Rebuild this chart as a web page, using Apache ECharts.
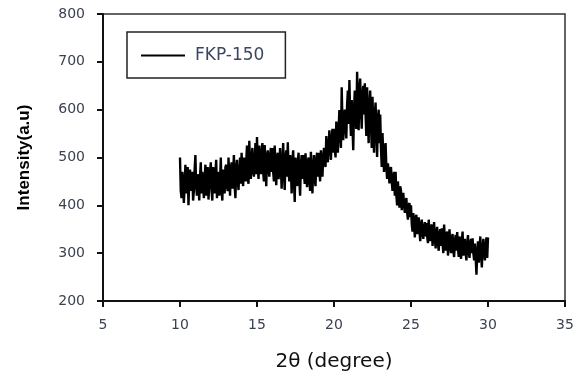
<!DOCTYPE html>
<html>
<head>
<meta charset="utf-8">
<script src="https://cdn.jsdelivr.net/npm/echarts@6/dist/echarts.min.js"></script>
<style>html,body{margin:0;padding:0;background:#fff;}#c{width:581px;height:380px;}</style>
</head>
<body>
<div id="c"></div>
<script>
// Sampling grid of 2θ (degrees)
var thetaStart = 10.0;
var thetaStep = 0.05;
// Intensity readings (a.u.), one per 0.05° from 10.00° to 30.00°
var intensity10 = [500,430,415,470,455,405,440,485,425,460,480,400,450,475,430,445,470,410,430,475];
var intensity11 = [505,440,420,465,450,410,460,490,425,470,470,415,455,485,420,440,480,412,445,470];
var intensity12 = [490,430,410,480,455,425,470,495,415,460,470,420,450,500,430,410,475,440,425,480];
var intensity13 = [485,440,430,500,460,420,475,490,435,465,505,440,415,480,495,450,432,470,500,445];
var intensity14 = [510,460,440,500,470,450,490,525,455,445,535,480,455,500,520,470,460,495,530,465];
var intensity15 = [543,480,455,525,490,465,510,530,470,450,526,485,440,500,515,475,460,505,520,470];
var intensity16 = [520,470,450,525,480,442,500,510,455,470,520,480,435,490,530,465,432,500,515,460];
var intensity17 = [532,470,450,505,475,425,495,515,450,407,500,460,440,490,510,450,420,485,505,455];
var intensity18 = [505,465,445,509,470,438,490,500,450,430,512,470,425,480,505,455,440,495,510,460];
var intensity19 = [510,470,450,515,485,460,500,520,490,480,545,510,490,525,557,520,495,540,560,510];
var intensity20 = [560,520,500,575,540,510,560,599,550,520,647,570,536,580,600,560,540,610,640,570];
var intensity21 = [662,590,545,620,565,515,600,640,580,560,679,620,557,640,665,600,560,630,650,590];
var intensity22 = [655,590,545,647,580,530,610,640,570,520,627,560,510,590,615,550,501,580,600,530];
var intensity23 = [590,520,480,551,500,470,520,530,480,455,488,470,446,475,480,450,430,460,470,420];
var intensity24 = [470,420,400,450,420,395,440,430,390,410,426,400,384,410,415,385,370,400,405,375];
var intensity25 = [400,360,345,384,360,333,375,380,340,355,375,345,325,360,370,340,330,355,365,335];
var intensity26 = [363,335,321,370,340,325,355,360,315,340,365,330,310,345,355,320,305,340,350,315];
var intensity27 = [352,320,300,360,325,305,340,345,295,320,350,315,300,330,340,305,292,325,338,305];
var intensity28 = [344,310,292,335,310,288,325,345,295,315,330,300,285,320,338,305,290,320,330,300];
var intensity29 = [331,300,285,320,290,255,300,325,280,305,335,295,270,310,330,300,285,315,333,290];
var intensity30 = [333];

var seriesName = 'FKP-150';
var xTicks = [5, 10, 15, 20, 25, 30, 35];
var yTicks = [200, 300, 400, 500, 600, 700, 800];

var allIntensity = [].concat(intensity10, intensity11, intensity12, intensity13, intensity14,
  intensity15, intensity16, intensity17, intensity18, intensity19, intensity20, intensity21,
  intensity22, intensity23, intensity24, intensity25, intensity26, intensity27, intensity28,
  intensity29, intensity30);
var points = allIntensity.map(function (v, i) {
  return [+(thetaStart + i * thetaStep).toFixed(2), v];
});

var chart = echarts.init(document.getElementById('c'), null, {renderer: 'canvas'});
var labelStyle = {color: '#3c4152', fontFamily: 'DejaVu Sans', fontSize: 14};
chart.setOption({
  animation: false,
  backgroundColor: '#fff',
  grid: {
    left: 103, right: 16, top: 14, bottom: 79,
    outerBoundsMode: 'none',
    show: true, borderColor: '#333', borderWidth: 1.5, backgroundColor: 'transparent'
  },
  legend: {
    left: 127, top: 32,
    padding: [15, 21, 14, 14],
    itemWidth: 44, itemHeight: 14, itemGap: 10,
    borderColor: '#222', borderWidth: 1.5,
    icon: 'path://M0,6 L44,6 L44,8 L0,8 Z',
    itemStyle: {color: '#000', borderWidth: 0},
    lineStyle: {width: 0},
    textStyle: {color: '#3b4660', fontFamily: 'DejaVu Sans', fontSize: 17, padding: [0, 0, 0, 5]},
    data: [seriesName]
  },
  xAxis: {
    type: 'value', min: xTicks[0], max: xTicks[xTicks.length - 1], interval: 5,
    name: '2θ (degree)', nameLocation: 'middle', nameGap: 51,
    nameTextStyle: {color: '#111', fontFamily: 'DejaVu Sans', fontSize: 20},
    axisLine: {onZero: false, lineStyle: {color: '#111', width: 2}},
    axisTick: {inside: false, length: 6, lineStyle: {color: '#111', width: 2}},
    axisLabel: Object.assign({margin: 17}, labelStyle),
    splitLine: {show: false}
  },
  yAxis: {
    type: 'value', min: yTicks[0], max: yTicks[yTicks.length - 1], interval: 100,
    name: 'Intensity(a.u)', nameLocation: 'middle', nameGap: 70, nameRotate: 90,
    nameTextStyle: {color: '#000', fontFamily: 'Liberation Sans', fontWeight: 'bold', fontSize: 17},
    axisLine: {onZero: false, lineStyle: {color: '#111', width: 2}},
    axisTick: {inside: false, length: 6, lineStyle: {color: '#111', width: 2}},
    axisLabel: Object.assign({margin: 18}, labelStyle),
    splitLine: {show: false}
  },
  series: [{
    name: seriesName,
    type: 'line',
    data: points,
    symbol: 'none',
    sampling: null,
    lineStyle: {color: '#000', width: 2.4, join: 'bevel'},
    itemStyle: {color: '#000'}
  }]
});
</script>
</body>
</html>
